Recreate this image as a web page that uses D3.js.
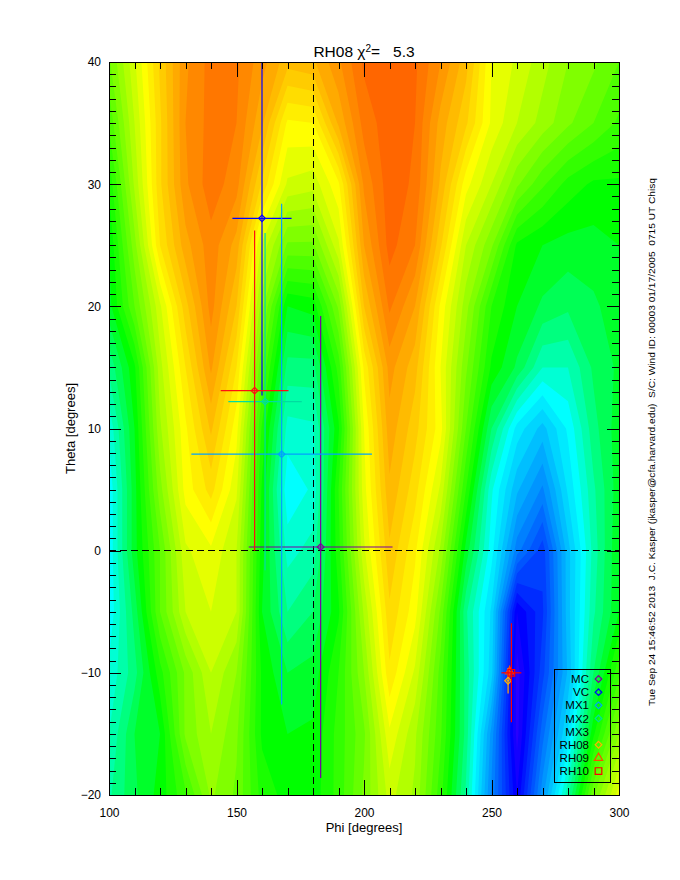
<!DOCTYPE html>
<html>
<head>
<meta charset="utf-8">
<script src="https://cdn.jsdelivr.net/npm/d3@7/dist/d3.min.js"></script>
<style>
html,body{margin:0;padding:0;background:#ffffff;}
svg{display:block;}
</style>
</head>
<body>
<svg id="chart" width="680" height="880"></svg>
<script>
// ================= DATA =================
// grid on which the chi-square surface was read (normalised colour level 0..1)
const phiGrid   = [100,110,120,130,140,150,160,170,180,190,200,210,220,230,240,250,260,270,280,290,300];
const thetaGrid = [40,35,30,25,20,15,10,5,0,-5,-10,-15,-20];
const chiSqRow40  = [0.62,0.72,0.83,0.92,0.96,0.955,0.91,0.86,0.87,0.92,0.98,0.99,0.98,0.925,0.86,0.75,0.72,0.685,0.65,0.63,0.60];
const chiSqRow35  = [0.58,0.70,0.82,0.925,0.96,0.95,0.88,0.77,0.775,0.88,0.96,0.99,0.975,0.89,0.83,0.745,0.70,0.665,0.63,0.60,0.57];
const chiSqRow30  = [0.53,0.68,0.82,0.92,0.965,0.935,0.82,0.72,0.71,0.77,0.93,0.99,0.97,0.87,0.76,0.70,0.63,0.58,0.54,0.52,0.52];
const chiSqRow25  = [0.50,0.64,0.80,0.89,0.94,0.89,0.72,0.62,0.62,0.72,0.90,0.985,0.95,0.83,0.70,0.63,0.52,0.50,0.49,0.49,0.50];
const chiSqRow20  = [0.49,0.60,0.72,0.84,0.935,0.85,0.66,0.50,0.51,0.63,0.85,0.955,0.90,0.77,0.66,0.55,0.50,0.47,0.455,0.47,0.49];
const chiSqRow15  = [0.43,0.52,0.69,0.80,0.905,0.80,0.60,0.44,0.44,0.56,0.78,0.91,0.86,0.75,0.63,0.52,0.47,0.40,0.40,0.455,0.48];
const chiSqRow10  = [0.38,0.50,0.67,0.77,0.855,0.76,0.545,0.39,0.395,0.52,0.75,0.89,0.835,0.76,0.60,0.45,0.34,0.29,0.355,0.44,0.49];
const chiSqRow5   = [0.355,0.49,0.64,0.76,0.81,0.73,0.52,0.355,0.38,0.55,0.74,0.87,0.81,0.72,0.55,0.38,0.28,0.22,0.33,0.42,0.49];
const chiSqRow0   = [0.355,0.49,0.60,0.72,0.745,0.70,0.51,0.39,0.41,0.54,0.72,0.845,0.78,0.67,0.49,0.36,0.21,0.135,0.29,0.41,0.50];
const chiSqRowM5  = [0.355,0.46,0.60,0.70,0.725,0.70,0.50,0.425,0.45,0.52,0.68,0.82,0.76,0.62,0.43,0.32,0.05,0.12,0.29,0.42,0.50];
const chiSqRowM10 = [0.38,0.44,0.54,0.63,0.70,0.65,0.52,0.475,0.485,0.55,0.65,0.795,0.72,0.59,0.44,0.31,0.012,0.14,0.28,0.45,0.57];
const chiSqRowM15 = [0.40,0.475,0.50,0.63,0.675,0.63,0.52,0.50,0.505,0.56,0.62,0.745,0.68,0.58,0.44,0.24,0.015,0.19,0.33,0.52,0.65];
const chiSqRowM20 = [0.42,0.47,0.51,0.57,0.655,0.62,0.54,0.515,0.51,0.56,0.63,0.71,0.67,0.56,0.42,0.22,0.05,0.24,0.42,0.62,0.74];
const chiSqGrid = [chiSqRow40,chiSqRow35,chiSqRow30,chiSqRow25,chiSqRow20,chiSqRow15,chiSqRow10,
                   chiSqRow5,chiSqRow0,chiSqRowM5,chiSqRowM10,chiSqRowM15,chiSqRowM20];

const xTickValues = [100,150,200,250,300];
const yTickValues = [-20,-10,0,10,20,30,40];
const refPhi = [180];
const refTheta = [0];

// fitted directions with errors
const seriesNames  = ["MC","VC","MX1","MX2","MX3","RH08","RH09","RH10"];
const pointPhi     = [183.0, 160.0, 167.7, 161.2, 157.1, 256.5, 257.1, 257.8];
const pointTheta   = [0.3,   27.2,  7.9,   12.2,  13.1,  -10.65, -9.9, -10.0];
const phiError     = [28.2,  11.6,  35.4,  14.4,  13.3,  0.6,   0.5,  3.9];
const thetaError   = [18.9,  14.5,  20.5,  13.8,  13.1,  1.05,  0.5,  4.05];

// ================= STYLE =================
const seriesColors  = ["#7a00a0","#0000ff","#00a0ff","#00dca0","#ff1010","#ffb000","#ff4a00","#ff0000"];
const seriesSymbols = ["diamond","diamond","diamond","diamond","diamond","diamond","triangle","square"];
const legendSymbolShown = [true,true,true,true,false,true,true,true];
const colorStops  = [0, 0.05, 0.35, 0.5, 0.75, 1.0];
const colorValues = ["#2800ff","#0000ff","#00ffff","#00ff00","#ffff00","#ff5500"];
const FONT = "'Liberation Sans', Arial, sans-serif";

const W = 680, H = 880;
const plotLeft = 109, plotRight = 619, plotTop = 62, plotBottom = 795;

const svg = d3.select("#chart");
svg.append("rect").attr("width", W).attr("height", H).attr("fill", "#fff");

const x = d3.scaleLinear().domain([100, 300]).range([plotLeft, plotRight]);
const y = d3.scaleLinear().domain([-20, 40]).range([plotBottom, plotTop]);
const color = d3.scaleLinear().domain(colorStops).range(colorValues).clamp(true);

svg.append("defs").append("clipPath").attr("id", "plotclip")
  .append("rect").attr("x", plotLeft).attr("y", plotTop)
  .attr("width", plotRight - plotLeft).attr("height", plotBottom - plotTop);

// ---- filled contours ----
const nx = phiGrid.length, ny = thetaGrid.length;
const values = chiSqGrid.flat();
const thresholds = d3.range(0, 0.99, 0.025);
const contours = d3.contours().size([nx, ny]).thresholds(thresholds)(values);
const dPhi = phiGrid[1] - phiGrid[0];
const dTheta = thetaGrid[1] - thetaGrid[0];
const gridProj = d3.geoTransform({
  point: function(gx, gy) {
    this.stream.point(x(phiGrid[0] + (gx - 0.5) * dPhi), y(thetaGrid[0] + (gy - 0.5) * dTheta));
  }
});
const cpath = d3.geoPath(gridProj);
const gC = svg.append("g").attr("clip-path", "url(#plotclip)");
gC.selectAll("path").data(contours).join("path")
  .attr("d", cpath)
  .attr("fill", d => color(d.value))
  .attr("stroke", "none");

// ---- dashed reference lines ----
const gRef = svg.append("g").attr("clip-path", "url(#plotclip)");
gRef.selectAll("line.v").data(refPhi).join("line").attr("class", "v")
  .attr("x1", d => x(d)).attr("x2", d => x(d))
  .attr("y1", y(40)).attr("y2", y(-20))
  .attr("stroke", "#000").attr("stroke-width", 1).attr("stroke-dasharray", "7,4")
  .attr("shape-rendering", "crispEdges");
gRef.selectAll("line.h").data(refTheta).join("line").attr("class", "h")
  .attr("y1", d => y(d)).attr("y2", d => y(d))
  .attr("x1", x(100)).attr("x2", x(300))
  .attr("stroke", "#000").attr("stroke-width", 1).attr("stroke-dasharray", "7,4")
  .attr("shape-rendering", "crispEdges");

// ---- symbols ----
function symbolPath(kind) {
  if (kind === "square") return d3.symbol(d3.symbolSquare, 44)();
  if (kind === "triangle") return d3.symbol(d3.symbolTriangle, 30)();
  return d3.symbol(d3.symbolSquare, 22)();
}
function symbolTransform(kind, px, py) {
  return kind === "diamond" ? `translate(${px},${py}) rotate(45)` : `translate(${px},${py})`;
}

// ---- error bars and points ----
const gP = svg.append("g").attr("clip-path", "url(#plotclip)");
seriesNames.forEach((name, i) => {
  const c = seriesColors[i];
  const g = gP.append("g");
  g.append("line")
    .attr("x1", x(pointPhi[i] - phiError[i])).attr("x2", x(pointPhi[i] + phiError[i]))
    .attr("y1", y(pointTheta[i])).attr("y2", y(pointTheta[i]))
    .attr("stroke", c).attr("stroke-width", 1.2);
  g.append("line")
    .attr("x1", x(pointPhi[i])).attr("x2", x(pointPhi[i]))
    .attr("y1", y(pointTheta[i] - thetaError[i])).attr("y2", y(pointTheta[i] + thetaError[i]))
    .attr("stroke", c).attr("stroke-width", 1.2);
  g.append("path")
    .attr("d", symbolPath(seriesSymbols[i]))
    .attr("transform", symbolTransform(seriesSymbols[i], x(pointPhi[i]), y(pointTheta[i])))
    .attr("fill", "none").attr("stroke", c).attr("stroke-width", 1.2);
});

// ---- legend ----
const legX = 554, legY = 669, legW = 56, legH = 113;
const gL = svg.append("g");
gL.append("rect").attr("x", legX + 0.5).attr("y", legY + 0.5).attr("width", legW).attr("height", legH)
  .attr("fill", "none").attr("stroke", "#000").attr("stroke-width", 1);
const rowStep = 13.15;
seriesNames.forEach((name, i) => {
  const ry = legY + 10 + i * rowStep;
  gL.append("text").attr("x", legX + 35).attr("y", ry).attr("dy", "0.36em")
    .attr("text-anchor", "end").attr("font-family", FONT).attr("font-size", 11.5)
    .attr("fill", "#000").text(name);
  if (legendSymbolShown[i]) {
    gL.append("path").attr("d", symbolPath(seriesSymbols[i]))
      .attr("transform", symbolTransform(seriesSymbols[i], legX + 44.5, ry))
      .attr("fill", "none").attr("stroke", seriesColors[i]).attr("stroke-width", 1.2);
  }
});

// ---- axes ----
function styleAxis(g) {
  g.attr("font-family", FONT).attr("font-size", 12);
  g.select(".domain").remove();
  g.selectAll("line").attr("stroke", "#000").attr("shape-rendering", "crispEdges");
  g.selectAll("text").attr("fill", "#000");
}
const fmt = d3.format("d");
// bottom
svg.append("g").attr("transform", `translate(0,${plotBottom})`)
  .call(d3.axisBottom(x).tickValues(xTickValues).tickSizeInner(-15).tickSizeOuter(0).tickPadding(13).tickFormat(fmt))
  .call(styleAxis);
svg.append("g").attr("transform", `translate(0,${plotBottom})`)
  .call(d3.axisBottom(x).ticks(20).tickSizeInner(-7).tickSizeOuter(0).tickFormat(""))
  .call(styleAxis);
// top
svg.append("g").attr("transform", `translate(0,${plotTop})`)
  .call(d3.axisTop(x).tickValues(xTickValues).tickSizeInner(-15).tickSizeOuter(0).tickFormat(""))
  .call(styleAxis);
svg.append("g").attr("transform", `translate(0,${plotTop})`)
  .call(d3.axisTop(x).ticks(20).tickSizeInner(-7).tickSizeOuter(0).tickFormat(""))
  .call(styleAxis);
// left
svg.append("g").attr("transform", `translate(${plotLeft},0)`)
  .call(d3.axisLeft(y).tickValues(yTickValues).tickSizeInner(-12).tickSizeOuter(0).tickPadding(8).tickFormat(fmt))
  .call(styleAxis);
svg.append("g").attr("transform", `translate(${plotLeft},0)`)
  .call(d3.axisLeft(y).ticks(60).tickSizeInner(-7).tickSizeOuter(0).tickFormat(""))
  .call(styleAxis);
// right
svg.append("g").attr("transform", `translate(${plotRight},0)`)
  .call(d3.axisRight(y).tickValues(yTickValues).tickSizeInner(-12).tickSizeOuter(0).tickFormat(""))
  .call(styleAxis);
svg.append("g").attr("transform", `translate(${plotRight},0)`)
  .call(d3.axisRight(y).ticks(60).tickSizeInner(-7).tickSizeOuter(0).tickFormat(""))
  .call(styleAxis);

// frame
svg.append("rect").attr("x", plotLeft).attr("y", plotTop)
  .attr("width", plotRight - plotLeft).attr("height", plotBottom - plotTop)
  .attr("fill", "none").attr("stroke", "#000").attr("stroke-width", 1)
  .attr("shape-rendering", "crispEdges");

// ---- titles ----
const title = svg.append("text").attr("x", (plotLeft + plotRight) / 2).attr("y", 57)
  .attr("text-anchor", "middle").attr("font-family", FONT).attr("font-size", 15.5).attr("fill", "#000")
  .attr("xml:space", "preserve").style("white-space", "pre");
title.append("tspan").text("RH08 \u03c7");
title.append("tspan").attr("font-size", 10).attr("baseline-shift", "super").text("2");
title.append("tspan").text("=   5.3");

svg.append("text").attr("x", (plotLeft + plotRight) / 2).attr("y", 832)
  .attr("text-anchor", "middle").attr("font-family", FONT).attr("font-size", 13).attr("fill", "#000")
  .text("Phi [degrees]");
svg.append("text").attr("transform", `translate(75,${(plotTop + plotBottom) / 2}) rotate(-90)`)
  .attr("text-anchor", "middle").attr("font-family", FONT).attr("font-size", 13).attr("fill", "#000")
  .text("Theta [degrees]");

svg.append("text").attr("transform", "translate(655,442) rotate(-90)")
  .attr("text-anchor", "middle").attr("font-family", FONT).attr("font-size", 9.5).attr("fill", "#000")
  .attr("xml:space", "preserve").style("white-space", "pre")
  .attr("textLength", 528).attr("lengthAdjust", "spacingAndGlyphs")
  .text("Tue Sep 24 15:46:52 2013  J.C. Kasper (jkasper@cfa.harvard.edu)  S/C: Wind ID: 00003 01/17/2005  0715 UT Chisq");
</script>
</body>
</html>
